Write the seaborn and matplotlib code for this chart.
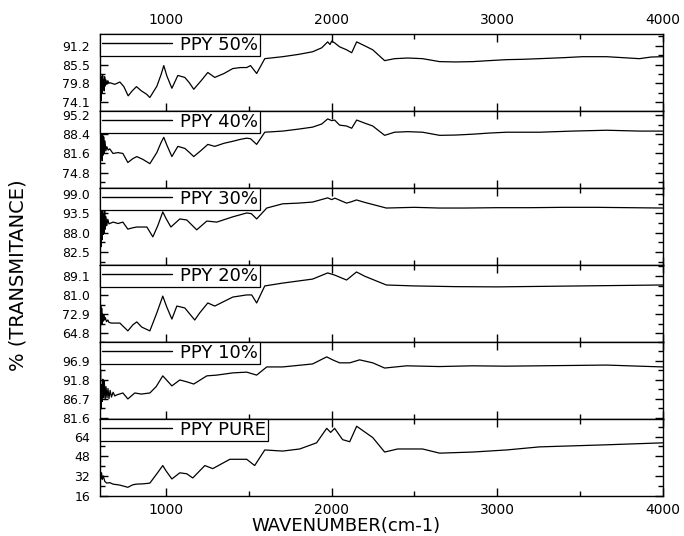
import numpy as np
import pandas as pd
import matplotlib
matplotlib.use("Agg")
import matplotlib.pyplot as plt
from matplotlib.ticker import AutoMinorLocator, FixedLocator
import seaborn as sns

# ---------------- data ----------------
labels = ["PPY 50%", "PPY 40%", "PPY 30%", "PPY 20%", "PPY 10%", "PPY PURE"]

wn_50 = [602, 605, 608, 611, 614, 617, 620, 623, 626, 629, 633, 637, 642, 648, 655,
         660, 690, 721, 745, 771, 795, 821, 851, 882, 902, 944, 970, 986, 1005, 1035, 1071, 1113,
         1140, 1167, 1210, 1252, 1294, 1350, 1403, 1450, 1487, 1510, 1547, 1596, 1650,
         1704, 1800, 1885, 1940, 1976, 1990, 2000, 2018, 2048, 2090, 2121, 2151, 2200,
         2248, 2320, 2380, 2460, 2549, 2652, 2750, 2851, 2950, 3056, 3150, 3255, 3400, 3515,
         3660, 3760, 3859, 3930, 4000]
t_50 = [75.0, 81.5, 74.5, 82.0, 77.0, 82.2, 78.5, 81.0, 77.5, 81.8, 79.0, 80.8, 79.5, 80.6, 79.8,
        80.0, 79.5, 80.2, 78.8, 76.0, 77.5, 78.8, 77.5, 76.5, 75.5, 78.9, 82.5, 85.2, 82.0, 78.3,
        82.2, 81.6,
        80.0, 78.0, 80.5, 83.1, 81.6, 82.8, 84.3, 84.6, 84.6, 85.2, 82.8, 87.3, 87.6,
        87.9, 88.6, 89.4, 90.6, 92.4, 91.6, 92.6, 92.1, 90.9, 90.0, 89.1, 92.4, 91.2,
        90.0, 86.7, 87.3, 87.5, 87.3, 86.4, 86.3, 86.4, 86.7, 87.0, 87.1, 87.3, 87.6, 87.9,
        87.9, 87.6, 87.3, 87.8, 87.9]

wn_40 = [602, 605, 608, 611, 614, 617, 620, 623, 627, 631, 636, 642, 650, 660,
         679, 710, 739, 769, 800, 823, 860, 902, 944, 970, 986, 1005, 1035, 1071, 1113, 1140,
         1167, 1210, 1252, 1294, 1350, 1403, 1450, 1487, 1510, 1547, 1596, 1650, 1704,
         1800, 1885, 1940, 1976, 2000, 2018, 2048, 2090, 2121, 2151, 2200, 2248, 2320,
         2380, 2460, 2549, 2652, 2750, 2851, 2950, 3056, 3255, 3455, 3660, 3859, 4000]
t_40 = [77.0, 89.5, 80.0, 90.2, 79.0, 88.0, 81.0, 87.5, 82.0, 86.0, 82.5, 84.0, 82.8, 83.2,
        81.6, 81.9, 81.6, 78.4, 79.8, 80.5, 79.5, 78.0, 81.9, 85.5, 87.3, 84.5, 80.5, 84.1,
        83.4, 82.0,
        80.5, 82.6, 84.8, 84.1, 85.2, 85.9, 86.6, 87.0, 86.8, 84.8, 89.1, 89.3, 89.5,
        90.2, 90.9, 92.0, 93.8, 93.2, 93.4, 91.6, 91.3, 90.5, 93.4, 92.3, 91.3, 88.0,
        89.1, 89.3, 89.1, 88.0, 88.1, 88.4, 88.8, 89.1, 89.1, 89.5, 89.8, 89.5, 89.5]

wn_30 = [602, 605, 608, 611, 614, 617, 620, 623, 626, 629, 633, 637, 642, 648, 655,
         680, 710, 739, 769, 800, 823, 884, 920, 950, 980, 1000, 1029, 1083, 1125, 1185,
         1246, 1306, 1403, 1487, 1515, 1547, 1608, 1704, 1800, 1885, 1976, 2000, 2020,
         2090, 2120, 2150, 2200, 2330, 2500, 2650, 2800, 3000, 3200, 3400, 3600, 3800, 4000]
t_30 = [81.5, 95.5, 84.0, 94.0, 86.0, 96.0, 87.5, 93.0, 88.0, 94.5, 89.0, 92.5, 90.0, 91.8, 90.5,
        91.0, 90.6, 91.0, 89.0, 89.4, 89.6, 89.6, 86.8, 90.0, 93.9, 92.0, 89.6, 91.9, 91.6, 88.8,
        91.3, 91.0, 92.5, 93.6, 93.4, 91.9, 95.0, 96.2, 96.4, 96.7, 97.9, 97.4, 97.8,
        96.4, 96.8, 97.3, 96.6, 95.0, 95.2, 95.0, 95.0, 95.1, 95.1, 95.2, 95.2, 95.1, 95.0]

wn_20 = [602, 605, 608, 611, 614, 617, 620, 624, 628, 633, 640, 648, 655,
         670, 721, 769, 800, 823, 853, 902, 944, 980, 1004, 1035, 1065, 1113, 1173, 1203,
         1252, 1294, 1403, 1487, 1517, 1547, 1596, 1704, 1885, 1976, 2018, 2090, 2150,
         2200, 2330, 2500, 2750, 3000, 3250, 3500, 3750, 4000]
t_20 = [67.0, 76.8, 68.5, 75.5, 69.0, 73.0, 70.0, 72.5, 70.5, 71.5, 69.8, 70.5, 69.5,
        69.2, 69.2, 65.9, 68.5, 69.7, 67.5, 65.9, 73.5, 80.6, 76.0, 70.9, 76.4, 75.6, 70.5, 73.5,
        77.7, 76.4, 80.2, 81.1, 81.1, 77.7, 84.9, 86.1, 87.8, 90.4, 89.5, 87.4, 90.8,
        89.0, 85.3, 84.9, 84.6, 84.5, 84.7, 84.9, 85.1, 85.3]

wn_10 = [602, 604, 607, 610, 614, 618, 622, 627, 632, 637, 643, 649, 655, 662, 670, 680, 690,
         703, 739, 769, 811, 850, 902, 940, 980, 1035, 1083, 1125, 1167, 1246, 1306, 1403,
         1487, 1547, 1608, 1704, 1885, 1970, 2006, 2048, 2109, 2169, 2248, 2320, 2453,
         2650, 2851, 3050, 3255, 3460, 3660, 3860, 4000]
t_10 = [82.4, 94.5, 84.0, 90.5, 86.0, 92.0, 87.0, 91.5, 86.5, 90.0, 87.0, 89.5, 86.8, 89.0,
        87.2, 88.5, 87.5,
        87.8, 88.3, 86.7, 88.3, 88.0, 88.3, 90.0, 92.9, 90.2, 91.8, 91.3, 90.7, 92.9, 93.1, 93.7,
        93.9, 93.1, 95.3, 95.3, 96.1, 98.0, 97.2, 96.4, 96.4, 97.2, 96.4, 95.0, 95.6,
        95.4, 95.6, 95.5, 95.6, 95.7, 95.8, 95.5, 95.3]

wn_pure = [602, 606, 610, 614, 620, 630, 642, 660, 679, 720, 769, 800, 823, 860, 902, 944,
           980, 1000, 1035, 1083, 1125, 1161, 1234, 1282, 1385, 1487, 1535, 1596, 1704, 1807,
           1909, 1970, 1994, 2018, 2066, 2109, 2151, 2248, 2320, 2399, 2549, 2652, 2851,
           3056, 3255, 3660, 4000]
t_pure = [36.2, 30.0, 34.5, 29.0, 32.0, 27.5, 26.1, 26.5, 25.3, 24.5, 22.7, 24.8, 25.3, 25.5,
          26.1, 33.7,
          40.4, 36.0, 29.5, 34.5, 33.7, 30.3, 40.4, 37.9, 45.5, 45.5, 40.4, 53.1, 52.2, 53.9,
          58.9, 70.7, 67.4, 70.7, 61.5, 59.8, 72.4, 63.2, 51.4, 53.9, 53.9, 50.5, 51.4,
          53.1, 55.6, 57.3, 58.9]

yticks = [[74.1, 79.8, 85.5, 91.2],
          [74.8, 81.6, 88.4, 95.2],
          [82.5, 88.0, 93.5, 99.0],
          [64.8, 72.9, 81.0, 89.1],
          [81.6, 86.7, 91.8, 96.9],
          [16, 32, 48, 64]]
ytick_labels = [["74.1", "79.8", "85.5", "91.2"],
                ["74.8", "81.6", "88.4", "95.2"],
                ["82.5", "88.0", "93.5", "99.0"],
                ["64.8", "72.9", "81.0", "89.1"],
                ["81.6", "86.7", "91.8", "96.9"],
                ["16", "32", "48", "64"]]
xticks = [1000, 2000, 3000, 4000]

series = [(wn_50, t_50), (wn_40, t_40), (wn_30, t_30),
          (wn_20, t_20), (wn_10, t_10), (wn_pure, t_pure)]

# ---------------- layout ----------------
ylims = [(71.4, 94.8), (69.4, 96.6), (78.8, 100.7), (61.2, 93.75), (81.3, 102.0), (15.6, 78.3)]

sns.set_theme(style="ticks")
plt.rcParams["font.family"] = ["DejaVu Sans"]
plt.rcParams["axes.linewidth"] = 1.0
plt.rcParams["axes.edgecolor"] = "black"
plt.rcParams["text.color"] = "black"
plt.rcParams["legend.labelcolor"] = "black"

fig = plt.figure(figsize=(6.84, 5.36), dpi=100)
axes = fig.subplots(6, 1, sharex=True, gridspec_kw=dict(hspace=0))
fig.subplots_adjust(left=0.146, right=0.969, top=0.9366, bottom=0.0746)

for i, ax in enumerate(axes):
    wn, tr = series[i]
    df = pd.DataFrame({"wn": wn, "T": tr})
    sns.lineplot(data=df, x="wn", y="T", ax=ax, color="black", linewidth=0.9,
                 estimator=None, sort=False, label=labels[i])
    ax.set_xlim(600, 4000)
    ax.set_ylim(*ylims[i])
    ax.set_xlabel("")
    ax.set_ylabel("")
    ax.yaxis.set_major_locator(FixedLocator(yticks[i]))
    ax.set_yticklabels(ytick_labels[i])
    ax.yaxis.set_minor_locator(AutoMinorLocator(2))
    ax.xaxis.set_major_locator(FixedLocator(xticks))
    ax.xaxis.set_minor_locator(AutoMinorLocator(2))
    ax.tick_params(axis="both", which="both", direction="in", top=True, right=True,
                   color="black", width=1.0)
    ax.tick_params(axis="both", which="major", length=6)
    ax.tick_params(axis="both", which="minor", length=3.5)
    ax.tick_params(axis="y", which="major", labelsize=9, pad=7, labelcolor="black")
    ax.tick_params(axis="x", which="major", labelsize=10, pad=5, labelcolor="black",
                   labelbottom=(i == 5), labeltop=(i == 0))
    for sp in ax.spines.values():
        sp.set_color("black")
        sp.set_linewidth(1.0)
    leg = ax.legend(loc="upper left", bbox_to_anchor=(0, 1), borderaxespad=0,
                    fancybox=False, framealpha=1, edgecolor="black", fontsize=13,
                    handlelength=3.9, handletextpad=0.45, borderpad=0.1)
    leg.get_frame().set_linewidth(0.9)
    for ln in leg.get_lines():
        ln.set_linewidth(1.0)
    for t in leg.get_texts():
        t.set_color("black")

fig.text(18 / 684, 1 - 275 / 536, "% (TRANSMITANCE)", rotation=90, ha="center",
         va="center", fontsize=14, color="black")
fig.text(346 / 684, 1 - 526 / 536, "WAVENUMBER(cm-1)", ha="center", va="center",
         fontsize=13, color="black")

fig.savefig("out.png", dpi=100, facecolor="white")
